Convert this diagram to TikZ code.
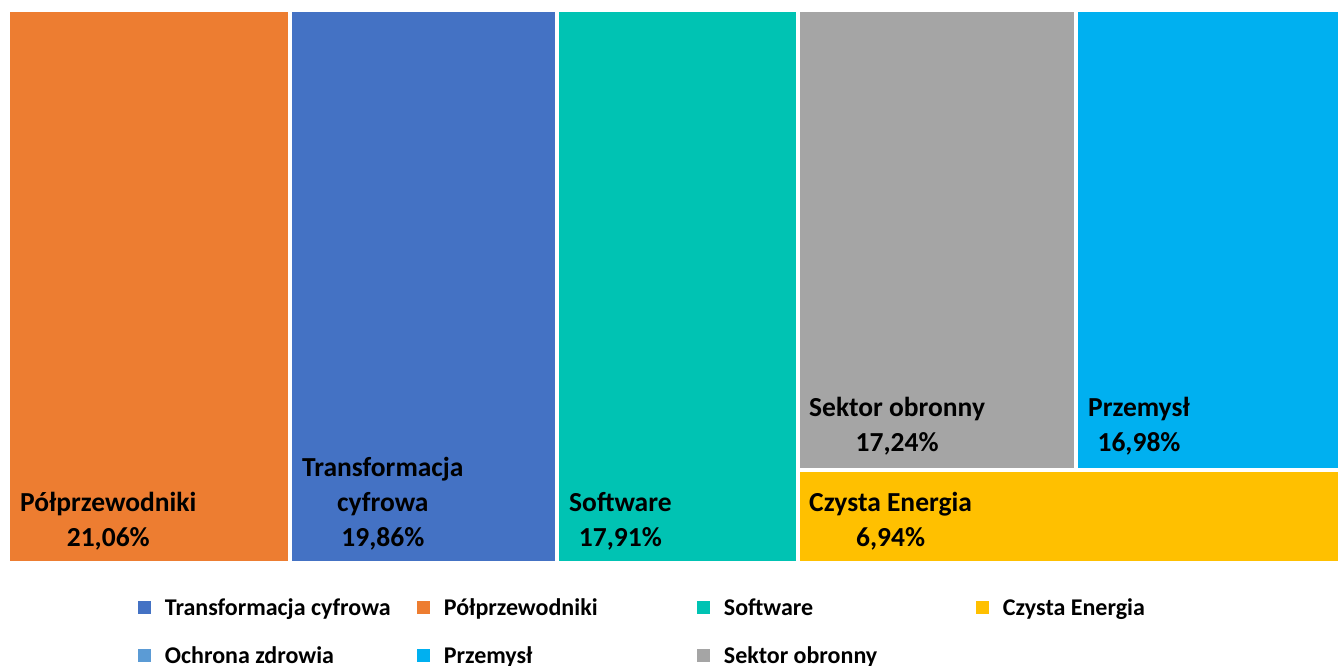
\documentclass[tikz,border=0pt]{standalone}
\usepackage{fontspec}
\setmainfont{Carlito}
\usetikzlibrary{positioning}
\definecolor{cPolp}{RGB}{237,125,49}
\definecolor{cTrans}{RGB}{68,114,196}
\definecolor{cSoft}{RGB}{0,195,179}
\definecolor{cSektor}{RGB}{165,165,165}
\definecolor{cPrzem}{RGB}{0,176,240}
\definecolor{cEnerg}{RGB}{255,192,0}
\definecolor{cZdrow}{RGB}{91,155,213}
\tikzset{
    tile/.style={
        anchor=north west,
        inner sep=0pt,
        outer sep=0pt
    },
    tilelabel/.style={
        anchor=south west,
        align=center,
        inner sep=0pt,
        font=\fontsize{27.5}{35}\selectfont\bfseries
    },
    legsq/.style={
        minimum size=13pt,
        inner sep=0pt
    },
    legtext/.style={
        anchor=west,
        inner sep=0pt,
        text height=15.5pt,
        text depth=0pt,
        font=\fontsize{24}{28}\selectfont\bfseries
    }
}

\begin{document}
\begin{tikzpicture}[x=1pt,y=-1pt]
            \useasboundingbox (0,0) rectangle (1338,666);

            % Tiles
            \node (polp) [
                tile, fill=cPolp,
                minimum width=278pt, minimum height=549pt,
            ] at (10,12) {};
            \node (trans) [
                tile, fill=cTrans,
                minimum width=263pt, minimum height=549pt,
            ] at (292,12) {};
            \node (soft) [
                tile, fill=cSoft,
                minimum width=237pt, minimum height=549pt,
            ] at (559,12) {};
            \node (sektor) [
                tile, fill=cSektor,
                minimum width=274pt, minimum height=456pt,
            ] at (800,12) {};
            \node (przem) [
                tile, fill=cPrzem,
                minimum width=260pt, minimum height=456pt,
            ] at (1078,12) {};
            \node (energ) [
                tile, fill=cEnerg,
                minimum width=538pt, minimum height=89pt,
            ] at (800,472) {};

            % Tile labels
            \node (polpLbl) [tilelabel] at ([shift={(10pt,11pt)}]polp.south west) {Półprzewodniki\\21,06\%};
            \node (transLbl) [tilelabel] at ([shift={(10pt,11pt)}]trans.south west) {Transformacja\\cyfrowa\\19,86\%};
            \node (softLbl) [tilelabel] at ([shift={(10pt,11pt)}]soft.south west) {Software\\17,91\%};
            \node (sektorLbl) [tilelabel] at ([shift={(9pt,13pt)}]sektor.south west) {Sektor obronny\\17,24\%};
            \node (przemLbl) [tilelabel] at ([shift={(10pt,13pt)}]przem.south west) {Przemysł\\16,98\%};
            \node (energLbl) [tilelabel] at ([shift={(9pt,11pt)}]energ.south west) {Czysta Energia\\6,94\%};

            % Legend
            \node (sqTrans) [legsq, fill=cTrans] at (144,607.5) {};
            \node (lbTrans) [legtext, right=14pt of sqTrans] {Transformacja cyfrowa};
            \node (sqPolp) [legsq, fill=cPolp] at (423,607.5) {};
            \node (lbPolp) [legtext, right=14pt of sqPolp] {Półprzewodniki};
            \node (sqSoft) [legsq, fill=cSoft] at (703,607.5) {};
            \node (lbSoft) [legtext, right=14pt of sqSoft] {Software};
            \node (sqEnerg) [legsq, fill=cEnerg] at (982,607.5) {};
            \node (lbEnerg) [legtext, right=14pt of sqEnerg] {Czysta Energia};
            \node (sqZdrow) [legsq, fill=cZdrow] at (144,655.5) {};
            \node (lbZdrow) [legtext, right=14pt of sqZdrow] {Ochrona zdrowia};
            \node (sqPrzem) [legsq, fill=cPrzem] at (423,655.5) {};
            \node (lbPrzem) [legtext, right=14pt of sqPrzem] {Przemysł};
            \node (sqSektor) [legsq, fill=cSektor] at (703,655.5) {};
            \node (lbSektor) [legtext, right=14pt of sqSektor] {Sektor obronny};
\end{tikzpicture}
\end{document}
